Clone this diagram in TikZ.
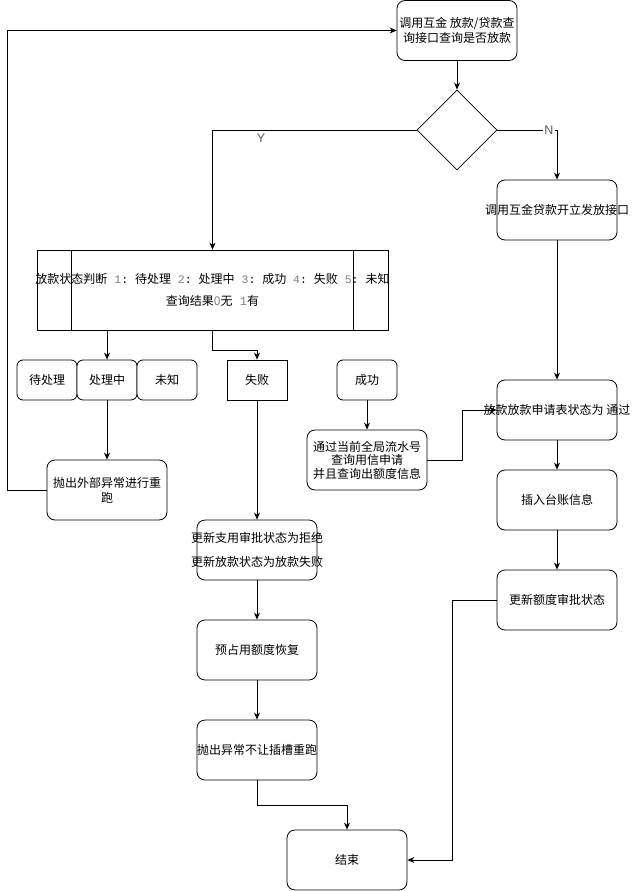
\documentclass[tikz,border=0pt]{standalone}
\usepackage{fontspec}
\newfontfamily\cjk{Noto Sans CJK SC}
\newfontfamily\mono{Liberation Mono}
\setsansfont{Liberation Sans}
\usetikzlibrary{arrows.meta,shapes.geometric}
\definecolor{dg}{HTML}{808080}
\definecolor{lbl}{HTML}{5a5a5a}
\newcommand\ov[1]{\makebox[0pt]{#1}}
\newcommand\dn[1]{{\mono\fontsize{11.5}{15}\selectfont\ \textcolor{dg}{#1}:\ }}
\begin{document}
\begin{tikzpicture}[x=1pt,y=-1pt, line width=0.8pt,
  box/.style={draw, rounded corners=8pt, minimum width=120pt, minimum height=60pt, inner sep=0pt, align=center, font=\cjk\fontsize{12}{15}\selectfont, fill=white},
  sbox/.style={box, minimum width=60pt, minimum height=40pt, rounded corners=6pt},
  arr/.style={-{Stealth[length=7pt,width=6pt]}},
  lab/.style={font=\sffamily\fontsize{12.5}{14}\selectfont, text=lbl, inner sep=1pt}]
\useasboundingbox (0,0) rectangle (634,891);

% nodes
\node[box] (top) at (457,30.5) {调用互金 放款/贷款查\\询接口查询是否放款};
\node[draw, diamond, minimum width=80pt, minimum height=80pt, inner sep=0pt] (dia) at (457,130) {};
\node[box] (kaili) at (557,210) {\ov{调用互金贷款开立发放接口}};
\node[draw, fill=white, minimum width=351pt, minimum height=80pt, inner sep=0pt, align=center, font=\cjk\fontsize{12}{15}\selectfont] (judge) at (212.5,290)
  {\ov{放款状态判断\dn{1}待处理\dn{2}处理中\dn{3}成功\dn{4}失败\dn{5}未知}\\[7pt]\ov{查询结果{\textcolor{dg}{0}}无{\mono\ \textcolor{dg}{1}}有}};
\draw ([xshift=35pt]judge.north west) -- ([xshift=35pt]judge.south west);
\draw ([xshift=-35pt]judge.north east) -- ([xshift=-35pt]judge.south east);

\node[sbox] (dcl) at (47,380) {待处理};
\node[sbox] (chuli) at (107,380) {处理中};
\node[sbox] (weizhi) at (167,380) {未知};
\node[sbox, rounded corners=0pt] (shibai) at (257,380) {失败};
\node[sbox] (cg) at (367,380) {成功};

\node[box] (pc1) at (107,490) {抛出外部异常进行重\\跑};
\node[box] (gx) at (257,550) {\ov{更新支用审批状态为拒绝}\\[9pt]\ov{更新放款状态为放款失败}};
\node[box] (yz) at (257,650) {预占用额度恢复};
\node[box] (pc2) at (257,750) {\ov{抛出异常不让插槽重跑}};
\node[box] (end) at (347,860) {结束};

\node[box, font=\cjk\fontsize{12}{13.5}\selectfont] (tg) at (367,460) {通过当前全局流水号\\查询用信申请\\并且查询出额度信息};
\node[box] (fk) at (557,410) {\ov{放款放款申请表状态为 通过}};
\node[box] (cr) at (557,500) {插入台账信息};
\node[box] (gx2) at (557,600) {更新额度审批状态};

\coordinate (loopx) at (7,0);

% connectors
\draw[arr] (top) -- (dia);
\draw[arr] (dia.west) -| (judge.north);
\draw[arr] (dia.east) -| (kaili.north);
\node[lab] (ylab) at (261,138) {Y};
\node[lab, fill=white] (nlab) at (549,130) {N};

\draw[arr] (judge.south -| chuli.north) -- (chuli.north);
\draw[arr] (judge.south) -- ++(0,20) -| (shibai.north);
\draw[arr] (chuli.south) -- (pc1.north);
\draw[arr] (pc1.west) -- (pc1.west -| loopx) |- (top.west);

\draw[arr] (shibai.south) -- (gx.north);
\draw[arr] (gx.south) -- (yz.north);
\draw[arr] (yz.south) -- (pc2.north);
\draw[arr] (pc2.south) -- ++(0,25) -| (end.north);

\draw[arr] (cg.south) -- (tg.north);
\draw[arr] (tg.east) -- ++(35,0) |- (fk.west);
\draw[arr] (kaili.south) -- (fk.north);
\draw[arr] (fk.south) -- (cr.north);
\draw[arr] (cr.south) -- (gx2.north);
\draw[arr] (gx2.west) -- ++(-44,0) |- (end.east);
\end{tikzpicture}
\end{document}
